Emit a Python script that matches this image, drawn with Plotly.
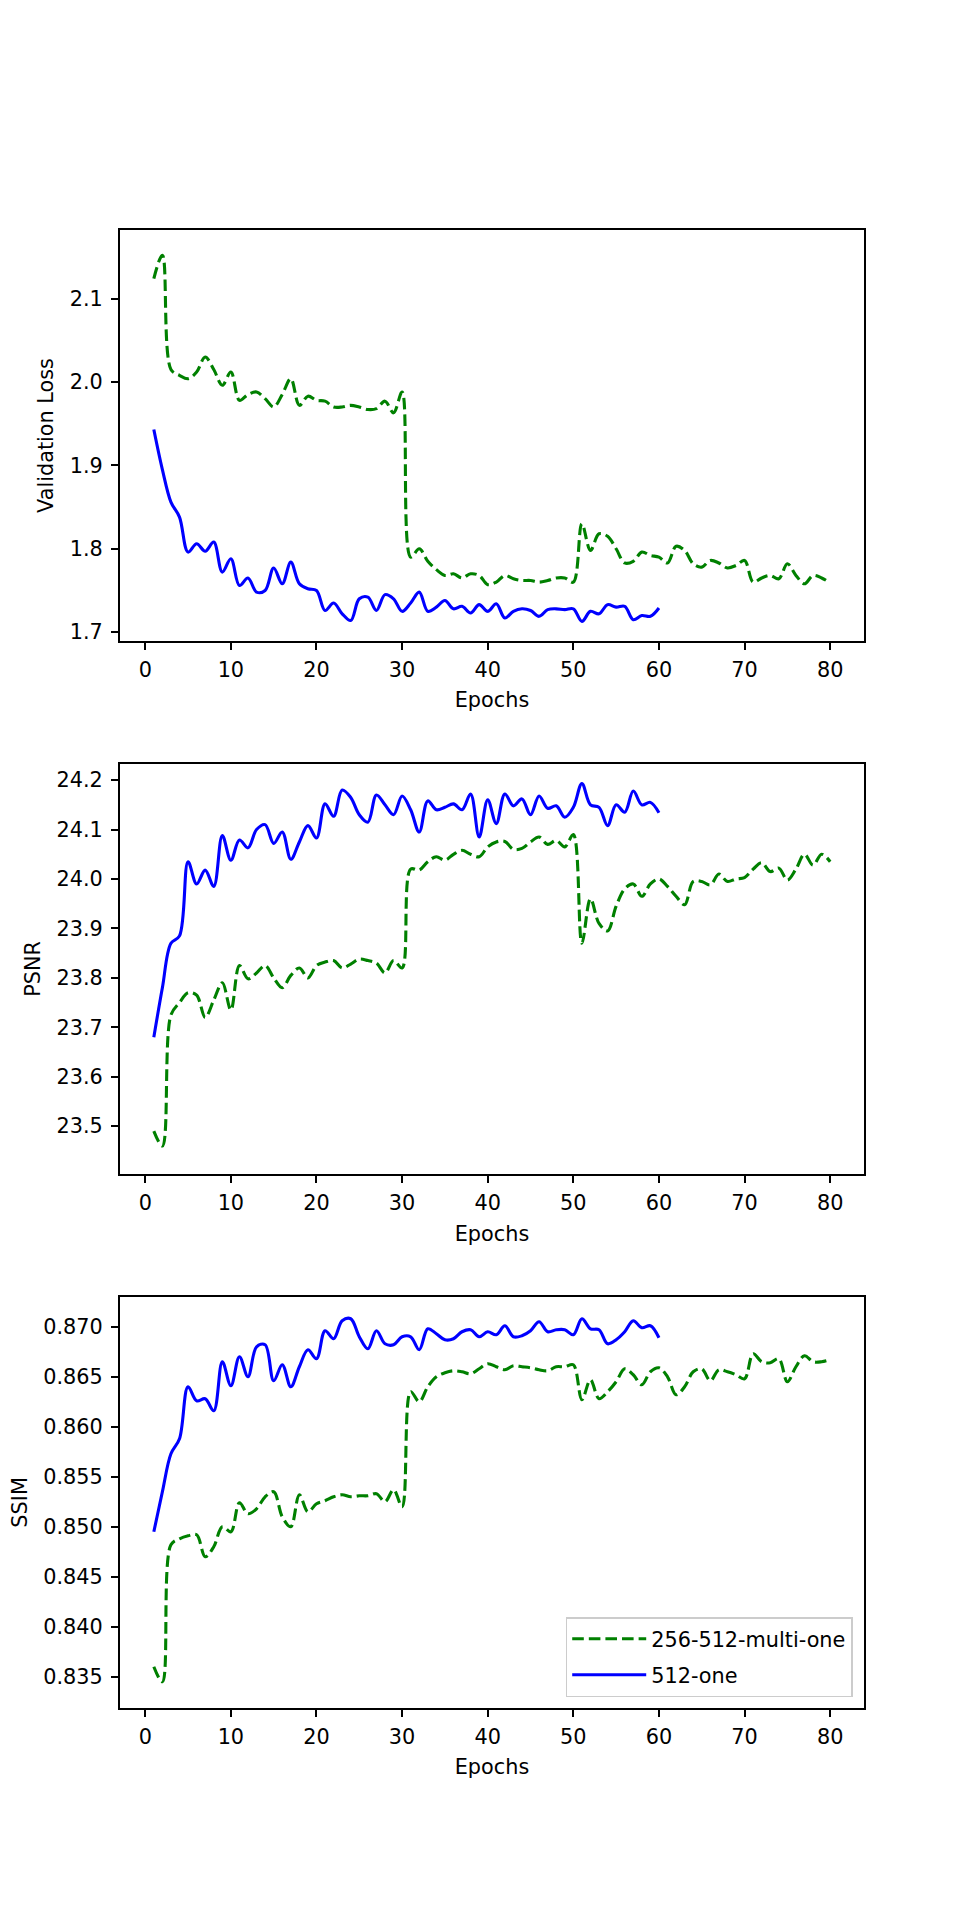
import plotly.graph_objects as go
from plotly.subplots import make_subplots

# epochs
epochs_multi = list(range(1, 81))
epochs_one = list(range(1, 61))

# validation loss
loss_multi = [2.124, 2.152, 2.015, 2.008, 2.004, 2.012, 2.030, 2.015, 1.996, 2.012,
              1.978, 1.985, 1.988, 1.980, 1.970, 1.985, 2.004, 1.972, 1.983, 1.978,
              1.977, 1.970, 1.970, 1.972, 1.970, 1.967, 1.968, 1.977, 1.963, 1.988,
              1.790, 1.800, 1.785, 1.775, 1.768, 1.770, 1.765, 1.770, 1.768, 1.757,
              1.760, 1.768, 1.764, 1.762, 1.762, 1.760, 1.762, 1.765, 1.765, 1.760,
              1.830, 1.798, 1.818, 1.815, 1.800, 1.783, 1.785, 1.796, 1.792, 1.790,
              1.783, 1.803, 1.798, 1.782, 1.778, 1.786, 1.783, 1.777, 1.780, 1.786,
              1.760, 1.765, 1.768, 1.764, 1.782, 1.768, 1.758, 1.768, 1.765, 1.759]
loss_one = [1.943, 1.895, 1.856, 1.838, 1.796, 1.806, 1.797, 1.808, 1.772, 1.788,
            1.756, 1.765, 1.748, 1.750, 1.777, 1.758, 1.784, 1.758, 1.752, 1.750,
            1.726, 1.735, 1.722, 1.714, 1.740, 1.742, 1.726, 1.745, 1.740, 1.725,
            1.735, 1.748, 1.725, 1.730, 1.738, 1.728, 1.731, 1.723, 1.733, 1.725,
            1.734, 1.717, 1.725, 1.728, 1.726, 1.719, 1.727, 1.728, 1.727, 1.728,
            1.713, 1.725, 1.722, 1.733, 1.730, 1.731, 1.715, 1.720, 1.719, 1.729]

# PSNR
psnr_multi = [23.49, 23.46, 23.725, 23.75, 23.77, 23.765, 23.72, 23.755, 23.79, 23.735,
              23.825, 23.798, 23.81, 23.825, 23.80, 23.78, 23.805, 23.82, 23.80, 23.825,
              23.832, 23.835, 23.82, 23.828, 23.838, 23.835, 23.83, 23.81, 23.835, 23.82,
              24.02, 24.018, 24.035, 24.045, 24.038, 24.05, 24.058, 24.05, 24.045, 24.065,
              24.075, 24.076, 24.06, 24.062, 24.075, 24.085, 24.07, 24.078, 24.065, 24.09,
              23.87, 23.96, 23.91, 23.895, 23.945, 23.98, 23.99, 23.965, 23.99, 24.0,
              23.985, 23.965, 23.948, 23.995, 23.995, 23.988, 24.01, 23.995, 24.0, 24.003,
              24.02, 24.033, 24.015, 24.022, 23.998, 24.02, 24.05, 24.028, 24.05, 24.035]
psnr_one = [23.68, 23.78, 23.87, 23.885, 24.035, 23.99, 24.018, 23.985, 24.088, 24.038,
            24.079, 24.063, 24.10, 24.11, 24.072, 24.095, 24.04, 24.075, 24.108, 24.083,
            24.152, 24.127, 24.18, 24.165, 24.13, 24.115, 24.17, 24.15, 24.13, 24.168,
            24.14, 24.095, 24.158, 24.14, 24.145, 24.152, 24.14, 24.172, 24.085, 24.16,
            24.112, 24.172, 24.148, 24.162, 24.13, 24.168, 24.143, 24.148, 24.125, 24.145,
            24.193, 24.15, 24.145, 24.108, 24.15, 24.135, 24.178, 24.15, 24.155, 24.134]

# SSIM
ssim_multi = [0.8360, 0.8345, 0.8482, 0.8488, 0.8491, 0.8492, 0.8470, 0.8480, 0.8500, 0.8495,
              0.8524, 0.8513, 0.8518, 0.8530, 0.8535, 0.8510, 0.8500, 0.8532, 0.8515, 0.8523,
              0.8526, 0.8530, 0.8532, 0.8530, 0.8531, 0.8531, 0.8533, 0.8525, 0.8537, 0.8520,
              0.8635, 0.8625, 0.8640, 0.8650, 0.8654, 0.8656, 0.8655, 0.8653, 0.8658, 0.8663,
              0.8660, 0.8657, 0.8661, 0.8660, 0.8659, 0.8657, 0.8656, 0.8660, 0.8660, 0.8662,
              0.8627, 0.8647, 0.8628, 0.8635, 0.8645, 0.8658, 0.8652, 0.8642, 0.8655, 0.8659,
              0.8650, 0.8632, 0.8640, 0.8655, 0.8658, 0.8646, 0.8657, 0.8655, 0.8652, 0.8648,
              0.8673, 0.8665, 0.8664, 0.8668, 0.8645, 0.8660, 0.8671, 0.8665, 0.8665, 0.8667]
ssim_one = [0.8495, 0.8535, 0.8573, 0.8588, 0.8640, 0.8626, 0.8628, 0.8616, 0.8665, 0.8641,
            0.8670, 0.8650, 0.8680, 0.8682, 0.8646, 0.8662, 0.8640, 0.8660, 0.8677, 0.8668,
            0.8696, 0.8688, 0.8706, 0.8708, 0.8690, 0.8678, 0.8696, 0.8683, 0.8682, 0.8690,
            0.8690, 0.8677, 0.8698, 0.8693, 0.8687, 0.8688, 0.8695, 0.8697, 0.8690, 0.8695,
            0.8692, 0.8701, 0.8690, 0.8691, 0.8696, 0.8705, 0.8695, 0.8697, 0.8697, 0.8692,
            0.8708, 0.8698, 0.8697, 0.8683, 0.8687, 0.8695, 0.8706, 0.8699, 0.8701, 0.8689]

names = ["256-512-multi-one", "512-one"]
y_titles = ["Validation Loss", "PSNR", "SSIM"]
x_ticks = list(range(0, 81, 10))
y_ticks = [
    [1.7, 1.8, 1.9, 2.0, 2.1],
    [23.5, 23.6, 23.7, 23.8, 23.9, 24.0, 24.1, 24.2],
    [0.835, 0.840, 0.845, 0.850, 0.855, 0.860, 0.865, 0.870],
]
y_ranges = [[1.6898, 2.1818], [23.403, 24.233], [0.83192, 0.87295]]
y_formats = [".1f", ".1f", ".3f"]

# the page body has an 8px margin, so the figure is 952x1912 and
# the domains are set so the axes land where the original has them
y_domains = [[0.6691, 0.8837], [0.3901, 0.6047], [0.1111, 0.3257]]
x_domain = [0.11765, 0.89916]

FONT = "DejaVu Sans, Verdana, sans-serif"
FS = 20.8

fig = make_subplots(rows=3, cols=1)

series = [(loss_multi, loss_one), (psnr_multi, psnr_one), (ssim_multi, ssim_one)]
for i, (multi, one) in enumerate(series):
    row = i + 1
    fig.add_trace(go.Scatter(
        x=epochs_multi, y=multi, name=names[0], mode="lines",
        line=dict(color="green", width=3.1, dash="11.6px,5px", shape="spline"),
        showlegend=(row == 3), legendrank=1, legendgroup="multi",
    ), row=row, col=1)
    fig.add_trace(go.Scatter(
        x=epochs_one, y=one, name=names[1], mode="lines",
        line=dict(color="blue", width=3.1, shape="spline"),
        showlegend=(row == 3), legendrank=2, legendgroup="one",
    ), row=row, col=1)

    fig.update_xaxes(
        row=row, col=1, domain=x_domain, range=[-2.95, 83.95],
        tickvals=x_ticks, ticks="outside", ticklen=7.3, tickwidth=1.6,
        tickcolor="black", showline=True, linecolor="black", linewidth=1.6,
        mirror=True, showgrid=False, zeroline=False, automargin=False,
        tickfont=dict(family=FONT, size=FS, color="black"),
        ticklabelstandoff=2,
        title=dict(text="Epochs", standoff=12, font=dict(family=FONT, size=FS, color="black")),
    )
    fig.update_yaxes(
        row=row, col=1, domain=y_domains[i], range=y_ranges[i],
        tickvals=y_ticks[i], tickformat=y_formats[i], ticks="outside",
        ticklen=7.3, tickwidth=1.6, tickcolor="black", showline=True,
        linecolor="black", linewidth=1.6, mirror=True, showgrid=False,
        zeroline=False, automargin=False,
        tickfont=dict(family=FONT, size=FS, color="black"),
        ticklabelstandoff=4,
        title=dict(text=y_titles[i], standoff=10, font=dict(family=FONT, size=FS, color="black")),
    )

fig.update_layout(
    width=952, height=1912,
    margin=dict(l=0, r=0, t=0, b=0),
    paper_bgcolor="white", plot_bgcolor="white",
    font=dict(family=FONT, size=FS, color="black"),
    legend=dict(
        x=0.8873, y=0.1165, xanchor="right", yanchor="bottom",
        bgcolor="rgba(255,255,255,0.8)", bordercolor="#cccccc", borderwidth=1.5,
        font=dict(family=FONT, size=FS, color="black"),
        itemwidth=74, tracegroupgap=6,
    ),
)

fig.write_html("out.html")
